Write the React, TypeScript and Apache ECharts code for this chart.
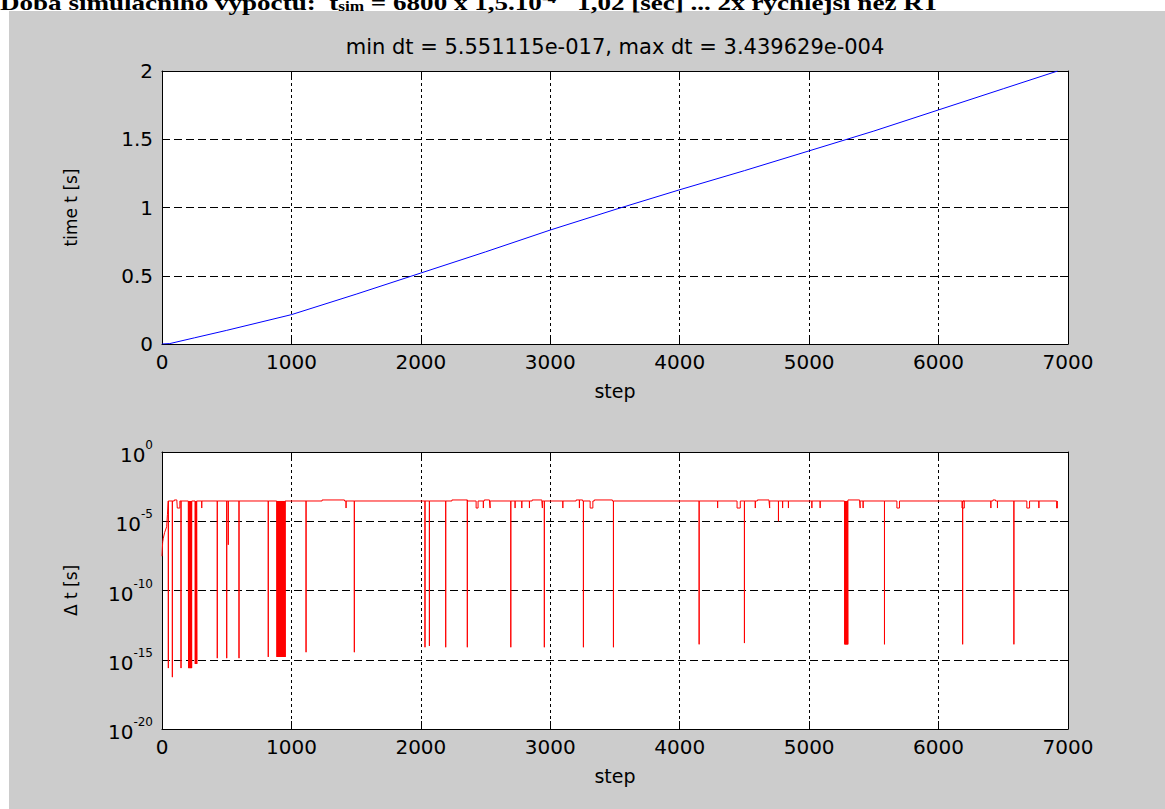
import React, { useEffect, useRef } from "react";
import * as echarts from "echarts";

// ---------- data ----------
const stepMin = 0;
const stepMax = 7000;
const stepInterval = 1000;

// top plot: simulated time vs. step
const timeSteps = [0, 60, 250, 500, 1000, 1500, 2000, 2500, 3000, 3500, 4000, 4500, 5000, 5500, 6000, 6500, 6920];
const timeValues = [0, 0.003, 0.045, 0.1, 0.215, 0.365, 0.52, 0.675, 0.835, 0.985, 1.13, 1.27, 1.415, 1.56, 1.715, 1.87, 2.0];

// bottom plot: time step size (log scale)
const dtBase = 2.9e-4;
const dtHigh = 3.44e-4;
const lastStep = 6920;

const rampSteps = [0, 5, 10, 20, 36, 42, 48];
const rampValues = [3e-8, 3e-7, 6e-7, 1.5e-6, 4e-6, 3e-5, 2.5e-4];

const highStarts = [95, 1237, 2240, 2490, 2860, 3200, 3340, 4600, 5300, 6420];
const highEnds = [115, 1410, 2360, 2530, 2935, 3250, 3480, 4690, 5390, 6440];

const dropSteps = [49, 80, 147, 427, 500, 512, 595, 821, 1113, 1486, 2032, 2066, 2192, 2359, 2695, 2954, 3256, 3488, 4150, 4500, 4763, 5582, 6186, 6582];
const dropValues = [2.5e-16, 5.55e-17, 2.5e-16, 1.3e-15, 1.3e-15, 2e-7, 1.3e-15, 1.6e-15, 3.5e-15, 3.5e-15, 8e-15, 1e-14, 8e-15, 8e-15, 8e-15, 8e-15, 8e-15, 8e-15, 1.3e-14, 1.6e-14, 1e-5, 1.3e-14, 1.3e-14, 1.3e-14];

const bandStarts = [203, 255, 886, 5273];
const bandEnds = [230, 268, 951, 5299];
const bandValues = [2.5e-16, 5e-16, 1.6e-15, 1.3e-14];

const notchStarts = [118, 307, 1422, 2427, 2483, 2535, 2728, 2780, 2839, 2939, 3097, 3225, 3308, 4293, 4443, 4584, 4695, 4795, 4840, 5021, 5085, 5394, 5417, 5678, 6181, 6404, 6455, 6682, 6775, 6912];
const notchEnds = [138, 307, 1422, 2442, 2483, 2535, 2728, 2780, 2839, 2939, 3097, 3225, 3329, 4293, 4468, 4584, 4695, 4795, 4840, 5021, 5085, 5394, 5417, 5698, 6199, 6404, 6455, 6703, 6775, 6918];
const notchValue = 9e-5;

const titleText = "min dt = 5.551115e-017, max dt = 3.439629e-004";

function buildDt(): [number, number][] {
  const isHigh = (s: number) => highStarts.some((a, i) => s >= a && s <= highEnds[i]);
  const L = (s: number) => (isHigh(s) ? dtHigh : dtBase);
  const evs: { k: number; pts: [number, number][] }[] = [];
  highStarts.forEach((a, i) => {
    const b = highEnds[i];
    evs.push({ k: a, pts: [[a, dtBase], [a, dtHigh]] });
    evs.push({ k: b, pts: [[b, dtHigh], [b, dtBase]] });
  });
  dropSteps.forEach((s, i) => {
    evs.push({ k: s, pts: [[s, L(s)], [s, dropValues[i]], [s, L(s)]] });
  });
  notchStarts.forEach((a, i) => {
    const b = notchEnds[i];
    evs.push({ k: a, pts: [[a, L(a)], [a, notchValue], [b, notchValue], [b, L(b)]] });
  });
  bandStarts.forEach((a, i) => {
    const b = bandEnds[i];
    const pts: [number, number][] = [];
    for (let s = a; s < b; s += 4) {
      pts.push([s, L(s)], [s + 2, bandValues[i]]);
    }
    pts.push([b, L(b)]);
    evs.push({ k: a, pts });
  });
  evs.sort((p, q) => p.k - q.k);
  const out: [number, number][] = rampSteps.map((s, i) => [s, rampValues[i]]);
  evs.forEach((e) => out.push(...e.pts));
  out.push([lastStep, L(lastStep)]);
  return out;
}

const FONT = "DejaVu Sans";
const LABEL = { fontFamily: FONT, fontSize: 20, color: "#000" };

function xAxes(grid: number) {
  return [
    {
      gridIndex: grid,
      type: "value",
      min: stepMin,
      max: stepMax,
      interval: stepInterval,
      position: "bottom",
      name: "step",
      nameLocation: "middle",
      nameGap: 37,
      nameTextStyle: { fontFamily: FONT, fontSize: 19, color: "#000" },
      axisLine: { show: true, onZero: false, lineStyle: { color: "#000", width: 1 } },
      axisTick: { show: true, inside: true, length: 8, lineStyle: { color: "#000" } },
      axisLabel: { ...LABEL, margin: 8, formatter: (v: number) => String(v) },
      splitLine: { show: true, lineStyle: { color: "#000", type: [3, 3], width: 1 } },
    },
    {
      gridIndex: grid,
      type: "value",
      min: stepMin,
      max: stepMax,
      interval: stepInterval,
      position: "top",
      axisLine: { show: true, onZero: false, lineStyle: { color: "#000", width: 1 } },
      axisTick: { show: true, inside: true, length: 8, lineStyle: { color: "#000" } },
      axisLabel: { show: false },
      splitLine: { show: false },
    },
  ];
}

export default function App() {
  const ref = useRef<HTMLDivElement>(null);
  useEffect(() => {
    if (!ref.current) return;
    const chart = echarts.init(ref.current, undefined, { renderer: "svg" });
    const dtData = buildDt();
    const logLabel = (v: number) => {
      const e = Math.round(Math.log10(v));
      return `{b|10}{s|${e}}`;
    };
    const yTicks = {
      axisLine: { show: true, onZero: false, lineStyle: { color: "#000", width: 1 } },
      axisTick: { show: true, inside: true, length: 8, lineStyle: { color: "#000" } },
    };
    chart.setOption({
      animation: false,
      backgroundColor: "transparent",
      title: {
        text: titleText,
        left: 615,
        top: 36,
        textAlign: "center",
        padding: 0,
        textStyle: { fontFamily: FONT, fontSize: 21, fontWeight: "normal", color: "#000" },
      },
      graphic: [
        {
          type: "text",
          x: 0,
          y: -9,
          scaleX: 1.23,
          style: {
            text: "Doba simulačního výpočtu:  t{sub|sim} = 6800 x 1,5.10{sup|-4 =} 1,02 [sec] ... 2x rychlejší než RT",
            fontFamily: "Liberation Serif",
            fontWeight: "bold",
            fontSize: 22,
            fill: "#000",
            verticalAlign: "top",
            rich: {
              sub: { fontFamily: "Liberation Serif", fontWeight: "bold", fontSize: 14, lineHeight: 8, verticalAlign: "bottom" },
              sup: { fontFamily: "Liberation Serif", fontWeight: "bold", fontSize: 14, lineHeight: 8, verticalAlign: "top" },
            },
          },
        },
      ],
      grid: [
        { left: 162, top: 71, width: 906, height: 273, show: true, backgroundColor: "#fff", borderWidth: 0 },
        { left: 162, top: 452, width: 906, height: 277, show: true, backgroundColor: "#fff", borderWidth: 0 },
      ],
      xAxis: [...xAxes(0), ...xAxes(1)],
      yAxis: [
        {
          gridIndex: 0,
          type: "value",
          min: 0,
          max: 2,
          interval: 0.5,
          position: "left",
          name: "time t [s]",
          nameLocation: "middle",
          nameRotate: 90,
          nameGap: 83,
          nameTextStyle: { fontFamily: FONT, fontSize: 17, color: "#000" },
          ...yTicks,
          axisLabel: { ...LABEL, margin: 9 },
          splitLine: { show: true, lineStyle: { color: "#000", type: [8, 4], width: 1 } },
        },
        {
          gridIndex: 0,
          type: "value",
          min: 0,
          max: 2,
          interval: 0.5,
          position: "right",
          ...yTicks,
          axisLabel: { show: false },
          splitLine: { show: false },
        },
        {
          gridIndex: 1,
          type: "log",
          logBase: 10,
          min: 1e-20,
          max: 1,
          interval: 5,
          position: "left",
          name: "Δ t [s]",
          nameLocation: "middle",
          nameRotate: 90,
          nameGap: 83,
          nameTextStyle: { fontFamily: FONT, fontSize: 17, color: "#000" },
          ...yTicks,
          minorTick: { show: false },
          axisLabel: {
            margin: 9,
            formatter: logLabel,
            rich: {
              b: { fontFamily: FONT, fontSize: 20, color: "#000", lineHeight: 26, verticalAlign: "bottom" },
              s: { fontFamily: FONT, fontSize: 12, color: "#000", lineHeight: 10, verticalAlign: "top" },
            },
          },
          splitLine: { show: true, lineStyle: { color: "#000", type: [8, 4], width: 1 } },
        },
        {
          gridIndex: 1,
          type: "log",
          logBase: 10,
          min: 1e-20,
          max: 1,
          interval: 5,
          position: "right",
          ...yTicks,
          axisLabel: { show: false },
          splitLine: { show: false },
        },
      ],
      series: [
        {
          type: "line",
          xAxisIndex: 0,
          yAxisIndex: 0,
          data: timeSteps.map((s, i) => [s, timeValues[i]]),
          showSymbol: false,
          symbol: "none",
          lineStyle: { color: "#0000ff", width: 1 },
        },
        {
          type: "line",
          xAxisIndex: 2,
          yAxisIndex: 2,
          data: dtData,
          showSymbol: false,
          symbol: "none",
          lineStyle: { color: "#ff0000", width: 1 },
        },
      ],
    });
    return () => chart.dispose();
  }, []);
  return (
    <div style={{ position: "absolute", left: 0, top: 0, width: 1165, height: 809, background: "#fff", overflow: "hidden" }}>
      <div style={{ position: "absolute", left: 9, top: 11, right: 0, bottom: 0, background: "#cccccc" }} />
      <div ref={ref} style={{ position: "absolute", left: 0, top: 0, width: 1165, height: 809 }} />
    </div>
  );
}
